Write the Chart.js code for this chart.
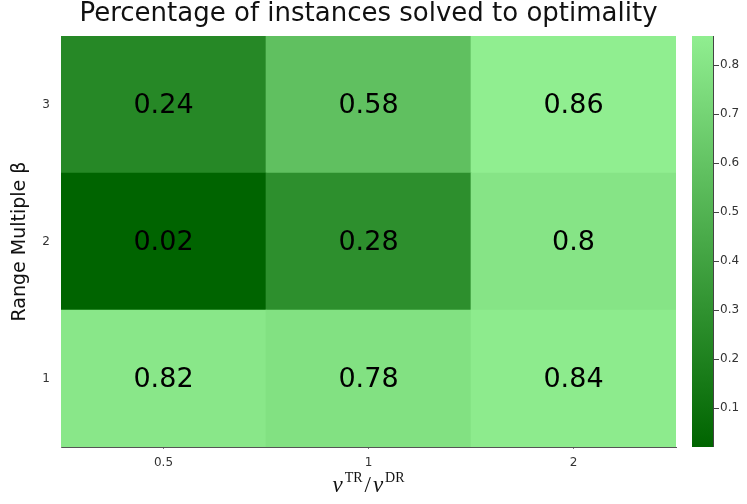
<!DOCTYPE html>
<html>
<head>
<meta charset="utf-8">
<script src="https://cdn.jsdelivr.net/npm/chart.js@4.4.0/dist/chart.umd.min.js"></script>
<style>
  html, body { margin: 0; padding: 0; background: #fff; }
  #wrap { width: 747px; height: 504px; }
</style>
</head>
<body>
<div id="wrap"><canvas id="heatCanvas" width="747" height="504"></canvas></div>
<script>
// ratio v_TR / v_DR on x, range multiple on y
const xLabels = ['0.5', '1', '2'];
const yValues = [1, 2, 3];
// one row per range multiple, values in x order
const row1 = [0.82, 0.78, 0.84];
const row2 = [0.02, 0.28, 0.80];
const row3 = [0.24, 0.58, 0.86];
const rows = [row1, row2, row3];
const cbTicks = [0.1, 0.2, 0.3, 0.4, 0.5, 0.6, 0.7, 0.8];

const allVals = rows.flat();
const vmin = Math.min(...allVals);
const vmax = Math.max(...allVals);

// darkgreen -> lightgreen
const c0 = [0, 100, 0];
const c1 = [144, 238, 144];
function colorFor(v) {
    const t = (v - vmin) / (vmax - vmin);
    const c = c0.map((a, i) => Math.round(a + (c1[i] - a) * t));
    return 'rgb(' + c.join(',') + ')';
}

const datasets = rows.map((vals, r) => ({
    label: 'beta ' + yValues[r],
    data: vals.map(() => [yValues[r] - 0.5, yValues[r] + 0.5]),
    backgroundColor: vals.map(colorFor),
    borderWidth: 0,
    barPercentage: 1,
    categoryPercentage: 1,
    grouped: false
}));

const decor = {
    id: 'decor',
    afterDatasetsDraw(chart) {
        const ctx = chart.ctx;
        const area = chart.chartArea;
        const xs = chart.scales.x, ys = chart.scales.y;
        ctx.save();
        // cell values
        ctx.fillStyle = '#000';
        ctx.font = '27px "DejaVu Sans"';
        ctx.textAlign = 'center';
        ctx.textBaseline = 'middle';
        rows.forEach((vals, r) => {
            vals.forEach((v, c) => {
                ctx.fillText(String(v), xs.getPixelForValue(c), ys.getPixelForValue(yValues[r]) + 1);
            });
        });

        // title
        ctx.font = '26px "DejaVu Sans"';
        ctx.fillStyle = '#111';
        ctx.fillText('Percentage of instances solved to optimality', (area.left + area.right) / 2, 14);

        // y axis title
        ctx.save();
        ctx.translate(20, (area.top + area.bottom) / 2);
        ctx.rotate(-Math.PI / 2);
        ctx.font = '19px "DejaVu Sans"';
        ctx.fillText('Range Multiple β', 0, 0);
        ctx.restore();

        // x axis title  v^TR / v^DR
        const cx = (area.left + area.right) / 2;
        const by = 492;
        const big = 'italic 23px "Liberation Serif"';
        const sup = '14px "Liberation Serif"';
        const norm = '23px "Liberation Serif"';
        const parts = [[big, 'v', 0, 2], [sup, 'TR', -10, 2], [norm, '/', 0, 2], [big, 'v', 0, 2], [sup, 'DR', -10, 0]];
        ctx.textAlign = 'left';
        ctx.textBaseline = 'alphabetic';
        let total = 0;
        parts.forEach(p => { ctx.font = p[0]; total += ctx.measureText(p[1]).width + p[3]; });
        let px = cx - total / 2;
        parts.forEach(p => {
            ctx.font = p[0];
            ctx.fillText(p[1], px, by + p[2]);
            px += ctx.measureText(p[1]).width + p[3];
        });

        // colorbar
        const cbL = area.right + 16, cbW = 21;
        const grad = ctx.createLinearGradient(0, area.bottom, 0, area.top);
        grad.addColorStop(0, colorFor(vmin));
        grad.addColorStop(1, colorFor(vmax));
        ctx.fillStyle = grad;
        ctx.fillRect(cbL, area.top, cbW, area.bottom - area.top);
        ctx.strokeStyle = '#444';
        ctx.lineWidth = 1;
        ctx.beginPath();
        ctx.moveTo(cbL + cbW + 0.5, area.top);
        ctx.lineTo(cbL + cbW + 0.5, area.bottom);
        ctx.stroke();
        ctx.font = '12px "DejaVu Sans"';
        ctx.fillStyle = '#333';
        ctx.textBaseline = 'middle';
        cbTicks.forEach(t => {
            const y = area.bottom - (t - vmin) / (vmax - vmin) * (area.bottom - area.top);
            ctx.beginPath();
            ctx.moveTo(cbL + cbW, Math.round(y) + 0.5);
            ctx.lineTo(cbL + cbW + 6, Math.round(y) + 0.5);
            ctx.stroke();
            ctx.fillText(String(t), cbL + cbW + 7, y);
        });
        ctx.restore();
    }
};

const ctx = document.getElementById('heatCanvas').getContext('2d');
const heatChart = new Chart(ctx, {
    type: 'bar',
    data: { labels: xLabels, datasets: datasets },
    options: {
        responsive: false,
        animation: false,
        layout: { padding: { top: 36, right: 71, left: 0, bottom: 0 } },
        plugins: {
            legend: { display: false },
            title: { display: false },
            tooltip: { enabled: false }
        },
        scales: {
            x: {
                grid: { display: true, drawOnChartArea: false, tickLength: 2, color: '#777', offset: false },
                border: { display: true, color: '#555' },
                ticks: { color: '#333', font: { family: 'DejaVu Sans', size: 12 }, padding: 7 },
                afterFit(scale) { scale.height = 57; }
            },
            y: {
                type: 'linear',
                min: 0.5,
                max: 3.5,
                grid: { display: true, drawOnChartArea: false, drawTicks: false, color: '#777' },
                border: { display: true, color: '#777' },
                ticks: {
                    color: '#333',
                    font: { family: 'DejaVu Sans', size: 12 },
                    padding: 11,
                    stepSize: 1
                },
                afterBuildTicks(scale) { scale.ticks = yValues.map(v => ({ value: v })); },
                afterFit(scale) { scale.width = 61; }
            }
        }
    },
    plugins: [decor]
});
</script>
</body>
</html>
